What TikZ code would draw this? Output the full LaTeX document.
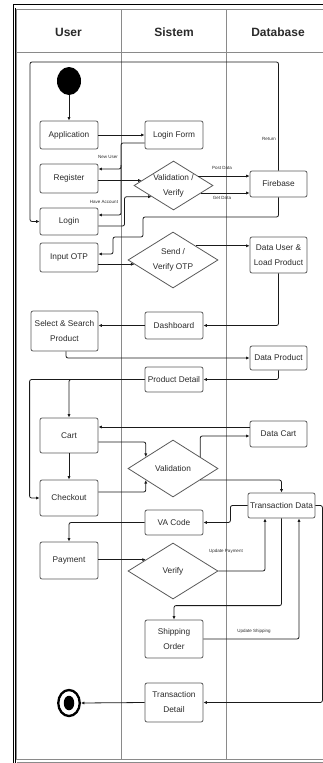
\documentclass[tikz,border=0pt]{standalone}
\usepackage{fontspec}
\setmainfont{Liberation Sans}
\usetikzlibrary{shapes.geometric,arrows.meta,calc}
\definecolor{boxc}{HTML}{5A5A5A}
\definecolor{linec}{HTML}{1A1A1A}
\definecolor{lanec}{HTML}{8A8A8A}
\definecolor{txt}{HTML}{2A2A2A}
\tikzset{
  box/.style={draw=boxc, fill=white, line width=0.8pt, rounded corners=2pt, inner sep=1pt,
    align=center, text=txt, font=\fontsize{8.3}{15}\selectfont},
  dia/.style={draw=boxc, fill=white, line width=0.8pt, diamond, inner sep=0pt},
  dtext/.style={align=center, text=txt, font=\fontsize{8.3}{15}\selectfont, inner sep=0pt},
  arr/.style={draw=linec, line width=0.8pt, rounded corners=2pt, -{Latex[length=3.5pt,width=3.2pt]}},
  lbl/.style={font=\fontsize{4.5}{5}\selectfont, text=txt, inner sep=0pt},
  hdr/.style={font=\fontsize{12}{14}\selectfont\bfseries, text=txt},
  lane/.style={draw=lanec, line width=0.6pt}
}
\begin{document}
\begin{tikzpicture}[x=1pt,y=-1pt]
\useasboundingbox (0,0) rectangle (323,763);
% frame
\draw[line width=1.3pt] (13.6,763) -- (13.6,4.5) -- (323,4.5);
\draw[line width=0.5pt] (15.7,8) -- (15.7,763);
\draw[lane] (16.6,759.5) -- (16.6,9) -- (323,9);
\draw[lane] (16.6,759.5) -- (323,759.5);
\draw[lane] (16.6,761.8) -- (323,761.8);
\draw[lane] (16.6,52) -- (323,52);
\draw[lane] (121,9) -- (121,759.5);
\draw[lane] (226,9) -- (226,759.5);
% headers
\node[hdr] (hu) at (68.5,32) {User};
\node[hdr] (hs) at (174,32) {Sistem};
\node[hdr] (hd) at (278,32) {Database};
% start / end
\node[ellipse, fill=black, minimum width=24, minimum height=28, inner sep=0pt] (start) at (69,81) {};
\node[ellipse, draw=black, line width=2.3pt, minimum width=21.5, minimum height=26, inner sep=0pt] (end) at (69,703) {};
\node[ellipse, fill=black, minimum width=10.5, minimum height=14.5, inner sep=0pt] (endin) at (end.center) {};
% user lane
\node[box, minimum width=58, minimum height=28] (app) at (69,135) {Application};
\node[box, minimum width=58, minimum height=29] (reg) at (69,178.5) {Register};
\node[box, minimum width=58, minimum height=27] (login) at (69,221.5) {Login};
\node[box, minimum width=58, minimum height=29] (iotp) at (69,257.5) {Input OTP};
\node[box, minimum width=67, minimum height=40] (sel) at (64.5,331) {Select \& Search\\Product};
\node[box, minimum width=58, minimum height=35] (cart) at (69,435.5) {Cart};
\node[box, minimum width=58, minimum height=36] (chk) at (69,498) {Checkout};
\node[box, minimum width=58, minimum height=37] (pay) at (69,560.5) {Payment};
% sistem lane
\node[box, minimum width=58, minimum height=28] (lf) at (174,135) {Login Form};
\node[dia, minimum width=79, minimum height=49] (vv) at (173.5,185.5) {};
\node[dtext] (vvt) at (vv.center) {Validation /\\Verify};
\node[dia, minimum width=90, minimum height=56] (so) at (173,260) {};
\node[dtext] (sot) at (so.center) {Send /\\Verify OTP};
\node[box, minimum width=58, minimum height=27] (dash) at (174,325.5) {Dashboard};
\node[box, minimum width=58, minimum height=25] (pd) at (174,379.5) {Product Detail};
\node[dia, minimum width=90, minimum height=57] (val) at (173,468.5) {};
\node[dtext] (valt) at (val.center) {Validation};
\node[box, minimum width=58, minimum height=25] (va) at (174,522.5) {VA Code};
\node[dia, minimum width=90, minimum height=56] (ver) at (173,571) {};
\node[dtext] (vert) at (ver.center) {Verify};
\node[box, minimum width=58, minimum height=38] (ship) at (174,639) {Shipping\\Order};
\node[box, minimum width=58, minimum height=39] (tdet) at (174,702.5) {Transaction\\Detail};
% database lane
\node[box, minimum width=57, minimum height=26] (fb) at (278.5,184) {Firebase};
\node[box, minimum width=57, minimum height=36] (du) at (278.5,255) {Data User \&\\Load Product};
\node[box, minimum width=57, minimum height=24] (dp) at (278.5,358) {Data Product};
\node[box, minimum width=57, minimum height=26] (dc) at (278.5,434) {Data Cart};
\node[box, minimum width=67, minimum height=25] (td) at (281.5,505.5) {Transaction Data};
% diamond edge points
\coordinate (vvin1) at ($(vv.west)!0.2!(vv.north)$);
\coordinate (vvin2) at ($(vv.west)!0.45!(vv.south)$);
\coordinate (vvout1) at ($(vv.north)!0.62!(vv.east)$);
\coordinate (vvout2) at ($(vv.east)!0.3!(vv.south)$);
\coordinate (soin) at ($(so.west)!0.15!(so.south)$);
\coordinate (soout) at ($(so.north)!0.5!(so.east)$);
\coordinate (valin1) at ($(val.west)!0.4!(val.north)$);
\coordinate (valin2) at ($(val.west)!0.4!(val.south)$);
\coordinate (valout1) at ($(val.north)!0.6!(val.east)$);
\coordinate (valout2) at ($(val.east)!0.4!(val.south)$);
\coordinate (verin) at ($(ver.west)!0.4!(ver.north)$);
% connectors
\draw[arr] (start) -- (app);
\draw[arr] (app.east) -- (lf.west);
\draw[arr] (lf.west |- 0,143) -| (121,169) -- (reg.east |- 0,169);
\draw[arr] (121,165) -- (121,215) -- (login.east |- 0,215);
\draw[arr] (reg.east |- vvin1) -- (vvin1);
\draw[arr] (login.east |- 0,226) -| ($(vvin2)+(-27,0)$) -- (vvin2);
\draw[arr] (vvout1) -- (fb.west |- vvout1);
\draw[arr] (vvout2) -- (fb.west |- vvout2);
\draw[arr] (fb.north) |- (30,62) |- (login.west);
\draw[arr] (fb.south) |- (143,217) |- (113,237) |- (iotp.east |- 0,254);
\draw[arr] (iotp.east |- soin) -- (soin);
\draw[arr] (soout) -- (du.west |- soout);
\draw[arr] (du.south) |- (dash.east);
\draw[arr] (dash.west) -- (sel.east |- dash.west);
\draw[arr] ($(sel.south)+(1.5,0)$) |- (dp.west);
\draw[arr] (dp.south) |- (pd.east);
\draw[arr] (pd.west) -| (cart.north);
\draw[arr] (pd.west) -| ($(chk.west)+(-10,0)$) -- (chk.west);
\draw[arr] (cart.south) -- (chk.north);
\draw[arr] (dc.west |- 0,427) -- (cart.east |- 0,427);
\draw[arr] (cart.east |- 0,442) -| (valin1);
\draw[arr] (chk.east |- 0,492) -| (valin2);
\draw[arr] (valout1) |- ($(dc.west)+(0,2)$);
\draw[arr] (valout2) -| (td.north);
\draw[arr] (td.west) -| ($(va.east)+(27,0)$) -- (va.east);
\draw[arr] (va.west) -| (pay.north);
\draw[arr] (pay.east |- verin) -- (verin);
\draw[arr] (ver.east) -| ($(td.south)+(-16.5,0)$);
\draw[arr] (td.south) |- ($(ship.north)+(0,-14)$) -- (ship.north);
\draw[arr] (ship.east) -| ($(td.south)+(17.5,0)$);
\draw[arr] (td.east) -| ($(tdet.east)+(119,0)$) -- (tdet.east);
\draw[arr] (tdet.west) -- (end.east);
% labels
\node[lbl] (lnew) at (108,157) {New User};
\node[lbl] (lhave) at (104,202) {Have Account};
\node[lbl] (lret) at (269,139) {Return};
\node[lbl] (lpost) at (222,168) {Post Data};
\node[lbl] (lget) at (222,198) {Get Data};
\node[lbl] (lupay) at (226,551) {Update Payment};
\node[lbl] (lush) at (254,631) {Update Shipping};
\end{tikzpicture}
\end{document}
